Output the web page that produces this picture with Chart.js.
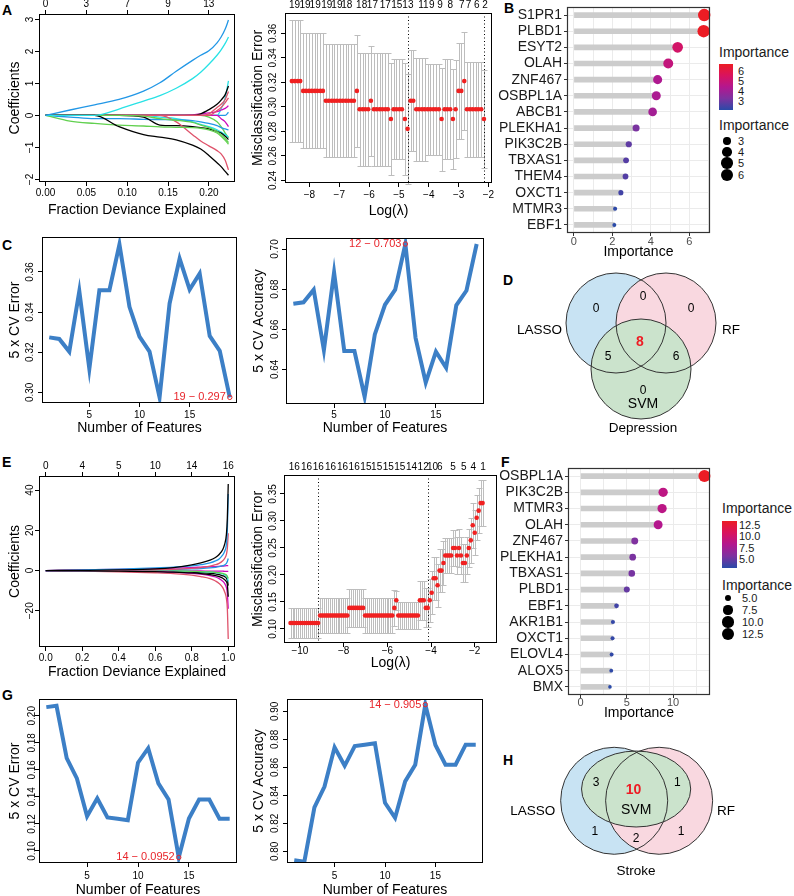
<!DOCTYPE html>
<html>
<head>
<meta charset="utf-8">
<script src="https://cdn.jsdelivr.net/npm/chart.js@4.4.1/dist/chart.umd.min.js"></script>
<style>
body { margin: 0; background: #fff; font-family: "Liberation Sans", Arial, sans-serif; }
#page { position: relative; width: 794px; height: 896px; overflow: hidden; }
#page canvas { position: absolute; }
.tag { position: absolute; font-weight: bold; font-size: 14px; line-height: 14px; }
.lg { position: absolute; white-space: nowrap; color: #1a1a1a; }
</style>
</head>
<body>
<div id="page">
  <div class="tag" style="left:2px;top:3px">A</div>
  <div class="tag" style="left:504px;top:1px">B</div>
  <div class="tag" style="left:2px;top:238px">C</div>
  <div class="tag" style="left:503px;top:273px">D</div>
  <div class="tag" style="left:2px;top:455px">E</div>
  <div class="tag" style="left:501px;top:455px">F</div>
  <div class="tag" style="left:2px;top:688px">G</div>
  <div class="tag" style="left:503px;top:753px">H</div>
</div>
<script>
Chart.defaults.font.family = '"Liberation Sans", Arial, sans-serif';
Chart.defaults.color = '#000';
Chart.defaults.animation = false;
Chart.defaults.events = [];
Chart.defaults.plugins.legend.display = false;
Chart.defaults.plugins.tooltip.enabled = false;

// ---------- data ----------
// A: lasso coefficient paths (depression)
const fracA = [0, 0.03, 0.06, 0.09, 0.12, 0.14, 0.16, 0.18, 0.19, 0.20, 0.21, 0.215, 0.22, 0.224];
const coefA = [
  [0, 0.17, 0.33, 0.50, 0.76, 1.02, 1.38, 1.72, 1.88, 2.02, 2.27, 2.45, 2.70, 2.98],
  [0, 0, 0, 0.20, 0.45, 0.62, 0.85, 1.15, 1.35, 1.60, 1.88, 2.05, 2.25, 2.45],
  [0, 0, 0, -0.35, -0.60, -0.68, -0.76, -0.93, -1.05, -1.25, -1.48, -1.60, -1.75, -1.87],
  [0, -0.18, -0.25, -0.30, -0.33, -0.36, -0.37, -0.38, -0.40, -0.45, -0.55, -0.65, -0.78, -0.90],
  [0, 0, 0, 0, -0.02, -0.10, -0.15, -0.22, -0.30, -0.38, -0.50, -0.60, -0.72, -0.85],
  [0, 0, 0, 0, 0, 0, -0.20, -0.60, -0.80, -0.95, -1.10, -1.20, -1.40, -1.70],
  [0, 0, 0, 0, 0, 0, 0, 0, 0, 0.05, 0.25, 0.35, 0.50, 0.75],
  [0, 0, 0, 0, 0, 0, 0, 0, 0, 0, 0.15, 0.25, 0.40, 0.55],
  [0, 0, 0, 0, 0, 0, 0, 0, 0.05, 0.18, 0.35, 0.48, 0.65, 0.92],
  [0, 0, 0, 0, -0.05, -0.30, -0.32, -0.35, -0.38, -0.42, -0.50, -0.55, -0.65, -0.75],
  [0, -0.05, -0.10, -0.10, -0.12, -0.13, -0.14, -0.16, -0.20, -0.25, -0.32, -0.38, -0.42, -0.45],
  [0, 0, 0, 0, 0, 0, 0, 0.02, 0.05, 0.08, 0.12, 0.17, 0.22, 0.30],
  [0, 0, 0, 0, 0, 0, 0, 0, 0, 0, 0, -0.10, -0.20, -0.35],
  [0, 0, 0, 0, 0, 0, 0, 0, 0, 0, 0, 0.20, 0.55, 1.08],
  [0, 0, 0, 0, 0, -0.05, -0.10, -0.20, -0.28, -0.35, -0.45, -0.52, -0.60, -0.68],
  [0, 0, 0, 0, 0, 0, 0, 0, 0, 0, 0, 0, 0, 0.10],
  [0, 0, 0, 0, 0, 0, 0, 0, 0, -0.05, -0.20, -0.35, -0.55, -0.70]
];
const nzTopPosA = [0, 0.05, 0.10, 0.15, 0.20];
const nzTopA = ['0', '3', '7', '9', '13'];

// A: cv curve (depression)
const lamA = [-8.59, -8.50, -8.40, -8.31, -8.21, -8.12, -8.02, -7.93, -7.83, -7.74,
  -7.64, -7.55, -7.45, -7.36, -7.26, -7.17, -7.08, -6.98, -6.89, -6.79,
  -6.70, -6.60, -6.51, -6.41, -6.32, -6.22, -6.13, -6.03, -5.94, -5.84,
  -5.75, -5.65, -5.56, -5.46, -5.37, -5.27, -5.18, -5.09, -4.99, -4.90,
  -4.80, -4.71, -4.61, -4.52, -4.42, -4.33, -4.23, -4.14, -4.04, -3.95,
  -3.85, -3.76, -3.66, -3.57, -3.47, -3.38, -3.28, -3.19, -3.10, -3.00,
  -2.91, -2.81, -2.72, -2.62, -2.53, -2.43, -2.34, -2.24, -2.15];
const cvmA = [0.321, 0.321, 0.321, 0.321, 0.313, 0.313, 0.313, 0.313, 0.313, 0.313,
  0.313, 0.313, 0.305, 0.305, 0.305, 0.305, 0.305, 0.305, 0.305, 0.305,
  0.305, 0.305, 0.305, 0.313, 0.298, 0.298, 0.298, 0.298, 0.305, 0.298,
  0.298, 0.298, 0.298, 0.298, 0.298, 0.290, 0.298, 0.298, 0.298, 0.298,
  0.290, 0.282, 0.305, 0.305, 0.298, 0.298, 0.298, 0.298, 0.298, 0.298,
  0.298, 0.298, 0.298, 0.290, 0.298, 0.298, 0.298, 0.290, 0.298, 0.313,
  0.313, 0.321, 0.298, 0.298, 0.298, 0.298, 0.298, 0.298, 0.290];
const cvsdA = [0.050, 0.050, 0.050, 0.050, 0.047, 0.047, 0.047, 0.047, 0.047, 0.047,
  0.047, 0.047, 0.046, 0.046, 0.046, 0.046, 0.046, 0.046, 0.046, 0.046,
  0.046, 0.046, 0.046, 0.046, 0.046, 0.046, 0.046, 0.046, 0.045, 0.046,
  0.046, 0.046, 0.046, 0.046, 0.046, 0.046, 0.041, 0.041, 0.041, 0.041,
  0.046, 0.045, 0.041, 0.041, 0.042, 0.042, 0.042, 0.042, 0.037, 0.037,
  0.037, 0.037, 0.037, 0.042, 0.041, 0.041, 0.041, 0.041, 0.040, 0.039,
  0.039, 0.040, 0.039, 0.039, 0.039, 0.039, 0.039, 0.039, 0.040];
const nzPosA = [-8.50, -8.15, -7.81, -7.42, -7.08, -6.75, -6.25, -5.89, -5.46, -5.07, -4.70, -4.18, -3.90, -3.62, -3.28, -2.89, -2.67, -2.39, -2.11];
const nzA = ['19', '19', '19', '19', '19', '18', '18', '17', '17', '15', '13', '11', '9', '9', '8', '7', '7', '6', '2'];
const lamLinesA = [-4.71, -2.15];

// B: random forest importance (depression)
const genesB = ['S1PR1', 'PLBD1', 'ESYT2', 'OLAH', 'ZNF467', 'OSBPL1A', 'ABCB1', 'PLEKHA1', 'PIK3C2B', 'TBXAS1', 'THEM4', 'OXCT1', 'MTMR3', 'EBF1'];
const impB = [6.77, 6.74, 5.39, 4.90, 4.35, 4.28, 4.09, 3.23, 2.85, 2.71, 2.68, 2.44, 2.14, 2.10];
const legTicksB = [6, 5, 4, 3];
const legSizesB = [3, 4, 5, 6];

// C: SVM-RFE (depression)
const featN = [1, 2, 3, 4, 5, 6, 7, 8, 9, 10, 11, 12, 13, 14, 15, 16, 17, 18, 19];
const errC = [0.3274, 0.3266, 0.3203, 0.3504, 0.3117, 0.3509, 0.3509, 0.3737, 0.3426, 0.3278, 0.3203, 0.2975, 0.3443, 0.3666, 0.3512, 0.3592, 0.3281, 0.3207, 0.2975];
const accC = [0.6727, 0.6734, 0.6797, 0.6496, 0.6883, 0.6491, 0.6491, 0.6263, 0.6574, 0.6722, 0.6797, 0.7025, 0.6557, 0.6334, 0.6488, 0.6408, 0.6719, 0.6793, 0.7025];
const bestErrC = [19, '19 \u2212 0.297'];
const bestAccC = [12, '12 \u2212 0.703'];

// D: overlap (depression)
const vennCountD = [0, 0, 0, 8, 5, 6, 0]; // LASSO, LASSO&RF, RF, all, LASSO&SVM, RF&SVM, SVM

// E: lasso coefficient paths (stroke)
const fracE = [0, 0.2, 0.4, 0.6, 0.7, 0.8, 0.85, 0.9, 0.93, 0.95, 0.97, 0.98, 0.99, 0.995, 1.0];
const coefE = [
  [0, 0.1, 0.3, 0.8, 1.5, 2.8, 3.8, 5.2, 6.5, 8, 10.5, 13, 18, 26, 43],
  [0, 0.3, 0.7, 1.3, 1.7, 2.3, 2.9, 3.8, 4.8, 5.8, 7.8, 9.5, 13, 20, 38],
  [0, 0.1, 0.2, 0.4, 0.6, 1.1, 1.5, 2.2, 2.9, 3.6, 4.9, 6, 8, 11, 18.5],
  [0, 0, 0.1, 0.3, 0.5, 0.8, 1, 1.3, 1.6, 1.9, 2.4, 2.8, 3.6, 4.5, 6],
  [0, 0.3, 0.6, 1, 1.2, 1.5, 1.7, 1.9, 2, 2.1, 2.2, 2.3, 2.4, 2.4, 2.5],
  [0, -0.1, -0.3, -0.5, -0.8, -1.2, -1.5, -2, -2.5, -3, -3.8, -4.5, -5.6, -7, -13],
  [0, -0.3, -0.6, -1.1, -1.5, -2.3, -3, -4, -5.2, -6.4, -8.5, -10.5, -14, -19, -34],
  [0, -0.1, -0.3, -0.6, -0.9, -1.4, -1.8, -2.5, -3.2, -4, -5.3, -6.4, -8.5, -11.5, -19],
  [0, 0, 0, -0.1, -0.2, -0.4, -0.5, -0.7, -0.9, -1.1, -1.4, -1.7, -2.2, -2.8, -4],
  [0, 0, 0, -0.1, -0.2, -0.4, -0.6, -0.8, -1, -1.3, -1.7, -2, -2.7, -3.5, -5.5],
  [0, 0, 0, -0.1, -0.1, -0.2, -0.2, -0.3, -0.3, -0.3, -0.3, -0.4, -0.4, -0.4, -0.5],
  [0, 0, -0.1, -0.3, -0.5, -0.8, -1, -1.4, -1.7, -2, -2.6, -3, -3.8, -4.8, -7.5]
];
const nzTopPosE = [0, 0.2, 0.4, 0.6, 0.8, 1.0];
const nzTopE = ['0', '4', '5', '10', '14', '16'];

// E: cv curve (stroke)
const lamE = [-10.43, -10.34, -10.25, -10.16, -10.07, -9.98, -9.89, -9.80, -9.71, -9.62,
  -9.53, -9.44, -9.35, -9.26, -9.17, -9.08, -8.99, -8.90, -8.81, -8.73,
  -8.64, -8.55, -8.46, -8.37, -8.28, -8.19, -8.10, -8.01, -7.92, -7.83,
  -7.74, -7.65, -7.56, -7.47, -7.38, -7.29, -7.20, -7.11, -7.02, -6.93,
  -6.84, -6.75, -6.66, -6.57, -6.48, -6.39, -6.30, -6.21, -6.12, -6.03,
  -5.95, -5.86, -5.77, -5.68, -5.59, -5.50, -5.41, -5.32, -5.23, -5.14,
  -5.05, -4.96, -4.87, -4.78, -4.69, -4.60, -4.51, -4.42, -4.33, -4.24,
  -4.15, -4.06, -3.97, -3.88, -3.79, -3.70, -3.61, -3.52, -3.43, -3.35,
  -3.26, -3.17, -3.08, -2.99, -2.90, -2.81, -2.72, -2.63, -2.54, -2.45,
  -2.36, -2.27, -2.18, -2.09, -2.00, -1.91, -1.82, -1.73, -1.64];
const cvmE = [0.111, 0.111, 0.111, 0.111, 0.111, 0.111, 0.111, 0.111, 0.111, 0.111,
  0.111, 0.111, 0.111, 0.111, 0.111, 0.125, 0.125, 0.125, 0.125, 0.125,
  0.125, 0.125, 0.125, 0.125, 0.125, 0.125, 0.125, 0.125, 0.125, 0.125,
  0.139, 0.139, 0.139, 0.139, 0.139, 0.139, 0.139, 0.139, 0.125, 0.125,
  0.125, 0.125, 0.125, 0.125, 0.125, 0.125, 0.125, 0.125, 0.125, 0.125,
  0.125, 0.125, 0.125, 0.139, 0.153, 0.125, 0.125, 0.125, 0.125, 0.125,
  0.125, 0.125, 0.125, 0.125, 0.125, 0.125, 0.153, 0.153, 0.153, 0.139,
  0.139, 0.153, 0.167, 0.194, 0.194, 0.181, 0.208, 0.208, 0.222, 0.236,
  0.236, 0.236, 0.236, 0.250, 0.250, 0.236, 0.250, 0.236, 0.222, 0.222,
  0.236, 0.250, 0.264, 0.292, 0.278, 0.306, 0.319, 0.333, 0.333];
const cvsdE = [0.028, 0.028, 0.028, 0.028, 0.028, 0.028, 0.028, 0.028, 0.028, 0.028,
  0.028, 0.028, 0.028, 0.028, 0.028, 0.033, 0.033, 0.033, 0.033, 0.033,
  0.033, 0.033, 0.033, 0.033, 0.033, 0.033, 0.033, 0.033, 0.033, 0.033,
  0.035, 0.035, 0.035, 0.035, 0.035, 0.035, 0.035, 0.035, 0.033, 0.033,
  0.033, 0.033, 0.033, 0.033, 0.033, 0.033, 0.033, 0.033, 0.033, 0.033,
  0.033, 0.033, 0.033, 0.034, 0.018, 0.025, 0.025, 0.025, 0.025, 0.025,
  0.025, 0.025, 0.025, 0.025, 0.025, 0.025, 0.036, 0.036, 0.036, 0.036,
  0.036, 0.040, 0.040, 0.040, 0.040, 0.040, 0.040, 0.040, 0.040, 0.033,
  0.033, 0.033, 0.033, 0.033, 0.033, 0.035, 0.035, 0.035, 0.035, 0.035,
  0.035, 0.035, 0.042, 0.042, 0.042, 0.042, 0.042, 0.042, 0.042];
const nzPosE = [-10.26, -9.70, -9.16, -8.60, -8.05, -7.52, -6.98, -6.49, -5.96, -5.43, -4.89, -4.36, -3.93, -3.60, -2.99, -2.50, -2.07, -1.62];
const nzE = ['16', '16', '16', '16', '16', '16', '15', '15', '15', '15', '14', '12', '10', '6', '5', '5', '4', '1'];
const lamLinesE = [-9.17, -4.15];

// F: random forest importance (stroke)
const genesF = ['OSBPL1A', 'PIK3C2B', 'MTMR3', 'OLAH', 'ZNF467', 'PLEKHA1', 'TBXAS1', 'PLBD1', 'EBF1', 'AKR1B1', 'OXCT1', 'ELOVL4', 'ALOX5', 'BMX'];
const impF = [13.4, 8.93, 8.82, 8.39, 5.86, 5.64, 5.54, 5.00, 3.89, 3.50, 3.46, 3.36, 3.32, 3.18];
const legTicksF = [12.5, 10.0, 7.5, 5.0];
const legSizesF = [5.0, 7.5, 10.0, 12.5];

// G: SVM-RFE (stroke)
const errG = [0.2064, 0.2074, 0.1686, 0.1537, 0.1257, 0.1389, 0.1248, 0.1238, 0.1228, 0.1653, 0.1760, 0.1500, 0.1381, 0.0952, 0.1240, 0.1381, 0.1381, 0.1238, 0.1238];
const accG = [0.7936, 0.7926, 0.8314, 0.8463, 0.8743, 0.8611, 0.8752, 0.8762, 0.8772, 0.8347, 0.8240, 0.8500, 0.8619, 0.9048, 0.8760, 0.8619, 0.8619, 0.8762, 0.8762];
const bestErrG = [14, '14 \u2212 0.0952'];
const bestAccG = [14, '14 \u2212 0.905'];

// H: overlap (stroke)
const vennCountH = [3, 10, 1, 1, 2, 1]; // LASSO&SVM, all, RF&SVM, LASSO, LASSO&RF, RF

// ---------- helpers ----------
const FONT = '"Liberation Sans", Arial, sans-serif';
const pathCol = { k: '#000000', r: '#DF536B', g: '#61D04F', b: '#2297E6', c: '#28E2E5', m: '#CD0BBC' };
const colA = ['b', 'c', 'k', 'g', 'g', 'r', 'r', 'r', 'k', 'k', 'b', 'm', 'm', 'c', 'c', 'b', 'g'];
const colE = ['k', 'b', 'r', 'b', 'm', 'k', 'r', 'm', 'g', 'c', 'm', 'k'];

const minus = s => s.replace('-', '\u2212');
const fInt = v => minus(String(Math.round(v)));
const f1 = v => minus(v.toFixed(1));
const f2 = v => minus(v.toFixed(2));

function mk(L, T, W, H) {
  const cv = document.createElement('canvas');
  cv.width = W; cv.height = H;
  cv.style.left = L + 'px'; cv.style.top = T + 'px';
  document.getElementById('page').appendChild(cv);
  return cv;
}

function boxPlug(color, lw) {
  return { id: 'box', afterDraw(ch) {
    const a = ch.chartArea, c = ch.ctx;
    c.save(); c.strokeStyle = color; c.lineWidth = lw;
    c.strokeRect(Math.round(a.left) + 0.5, Math.round(a.top) + 0.5, Math.round(a.right - a.left) - 1, Math.round(a.bottom - a.top) - 1);
    c.restore();
  } };
}

function rotYPlug(off, fmt) {
  return { id: 'roty', afterDraw(ch) {
    const s = ch.scales.y, c = ch.ctx;
    c.save();
    c.font = '10px ' + FONT; c.fillStyle = '#000'; c.textAlign = 'center'; c.textBaseline = 'middle';
    s.ticks.forEach(t => {
      c.save();
      c.translate(ch.chartArea.left - off, s.getPixelForValue(t.value));
      c.rotate(-Math.PI / 2);
      c.fillText(fmt(t.value), 0, 0);
      c.restore();
    });
    c.restore();
  } };
}

function cvPlug(lam, m, sd, vlines) {
  return { id: 'cvbars', beforeDatasetsDraw(ch) {
    const xs = ch.scales.x, ys = ch.scales.y, c = ch.ctx, a = ch.chartArea;
    c.save(); c.strokeStyle = '#bdbdbd'; c.lineWidth = 1;
    c.beginPath();
    lam.forEach((v, i) => {
      const x = Math.round(xs.getPixelForValue(v)) + 0.5;
      const y1 = Math.round(ys.getPixelForValue(m[i] + sd[i])) + 0.5;
      const y2 = Math.round(ys.getPixelForValue(m[i] - sd[i])) + 0.5;
      c.moveTo(x, y1); c.lineTo(x, y2);
      c.moveTo(x - 3, y1); c.lineTo(x + 3, y1);
      c.moveTo(x - 3, y2); c.lineTo(x + 3, y2);
    });
    c.stroke();
    c.strokeStyle = '#000'; c.setLineDash([1, 2.5]);
    c.beginPath();
    vlines.forEach(v => {
      const x = Math.round(xs.getPixelForValue(v)) + 0.5;
      c.moveTo(x, a.top); c.lineTo(x, a.bottom);
    });
    c.stroke();
    c.restore();
  } };
}

function notePlug(x, y, text) {
  return { id: 'note', afterDatasetsDraw(ch) {
    const px = ch.scales.x.getPixelForValue(x), py = ch.scales.y.getPixelForValue(y), c = ch.ctx;
    c.save();
    c.strokeStyle = '#e8262c'; c.lineWidth = 1;
    c.beginPath(); c.arc(px, py, 2.2, 0, 2 * Math.PI); c.stroke();
    c.fillStyle = '#e8262c'; c.font = '11px ' + FONT; c.textAlign = 'right'; c.textBaseline = 'middle';
    c.fillText(text, px - 4, py);
    c.restore();
  } };
}

function rPlot(P) {
  const cv = mk(P.L, P.T, P.W, P.H);
  const [bl, bt, br, bb] = P.box;
  const g = () => ({ drawOnChartArea: false, tickLength: 4, color: '#000', lineWidth: 1 });
  const scales = {
    x: {
      type: 'linear', position: 'bottom', min: P.x.min, max: P.x.max,
      afterBuildTicks: s => { s.ticks = P.x.ticks.map(v => ({ value: v })); },
      afterFit: s => { s.height = P.T + P.H - bb; s.paddingLeft = 0; s.paddingRight = 0; },
      ticks: { callback: v => P.x.fmt(v), font: { size: 10 }, color: '#000', padding: P.x.lab - 10, autoSkip: false, maxRotation: 0 },
      grid: g(), border: { display: false },
      title: { display: true, text: P.x.title, font: { size: 14 }, color: '#000', padding: { top: 0, bottom: P.T + P.H - P.x.tY - 8.4 } }
    },
    y: {
      type: 'linear', position: 'left', min: P.y.min, max: P.y.max,
      afterBuildTicks: s => { s.ticks = P.y.ticks.map(v => ({ value: v })); },
      afterFit: s => { s.width = bl - P.L; s.paddingTop = 0; s.paddingBottom = 0; },
      ticks: { display: false },
      grid: g(), border: { display: false },
      title: { display: true, text: P.y.title, font: { size: 14 }, color: '#000', padding: { top: P.y.tX - P.L - 8.4, bottom: 0 } }
    }
  };
  const pad = { left: 0, right: P.L + P.W - br, top: 0, bottom: 0 };
  if (P.top) {
    const tg = g(); tg.drawTicks = P.top.ticks;
    scales.x2 = {
      type: 'linear', position: 'top', min: P.x.min, max: P.x.max,
      afterBuildTicks: s => { s.ticks = P.top.pos.map(v => ({ value: v })); },
      afterFit: s => { s.height = bt - P.T; s.paddingLeft = 0; s.paddingRight = 0; },
      ticks: { callback: (v, i) => P.top.labels[i], font: { size: 10 }, color: '#000', padding: P.top.pad, autoSkip: false, maxRotation: 0 },
      grid: tg, border: { display: false }
    };
  } else {
    pad.top = bt - P.T;
  }
  new Chart(cv, {
    type: 'line',
    data: { datasets: P.datasets },
    options: { responsive: false, layout: { padding: pad }, scales: scales },
    plugins: [rotYPlug(P.y.lab, P.y.fmt), boxPlug('#000', 1)].concat(P.extra || [])
  });
}

function pathSets(grid, paths, cols) {
  return paths.map((ys, k) => ({
    data: grid.map((x, i) => ({ x: x, y: ys[i] })),
    borderColor: pathCol[cols[k]], borderWidth: 1.3, pointRadius: 0,
    cubicInterpolationMode: 'monotone', fill: false
  }));
}

function dotSet(lam, m) {
  return [{ data: lam.map((x, i) => ({ x: x, y: m[i] })), showLine: false, pointRadius: 2.3, pointBackgroundColor: '#f02020', pointBorderWidth: 0 }];
}

function curveSet(ys) {
  return [{ data: featN.map((x, i) => ({ x: x, y: ys[i] })), borderColor: '#3c7fc6', borderWidth: 4, pointRadius: 0, tension: 0, fill: false }];
}

const gradStops = [[0, [42, 74, 168]], [0.25, [125, 50, 160]], [0.5, [179, 23, 143]], [0.75, [217, 19, 94]], [1, [236, 28, 36]]];
function grad(t) {
  t = Math.max(0, Math.min(1, t));
  for (let i = 1; i < gradStops.length; i++) {
    if (t <= gradStops[i][0]) {
      const [t0, c0] = gradStops[i - 1], [t1, c1] = gradStops[i];
      const f = (t - t0) / (t1 - t0);
      return 'rgb(' + c0.map((v, k) => Math.round(v + (c1[k] - v) * f)).join(',') + ')';
    }
  }
  return 'rgb(236,28,36)';
}
const gradCss = 'linear-gradient(to top, ' + gradStops.map(s => 'rgb(' + s[1].join(',') + ') ' + (s[0] * 100) + '%').join(', ') + ')';

function lolli(P) {
  const cv = mk(P.L, P.T, P.W, P.H);
  const [bl, bt, br, bb] = P.box;
  const [v0, v1, r0, r1] = P.rng;
  const col = v => grad((v - v0) / (v1 - v0));
  const rad = v => Math.sqrt(r0 * r0 + (v - v0) / (v1 - v0) * (r1 * r1 - r0 * r0));
  new Chart(cv, {
    type: 'bar',
    data: { labels: P.genes, datasets: [
      { type: 'line', data: P.imp, showLine: false, order: 0, clip: false,
        pointRadius: c => c.raw == null ? 0 : rad(c.raw),
        pointBackgroundColor: c => c.raw == null ? '#000' : col(c.raw), pointBorderWidth: 0 },
      { type: 'bar', data: P.imp.map(v => [0, v]), backgroundColor: '#cccccc', barThickness: 5, order: 1 }
    ] },
    options: {
      indexAxis: 'y', responsive: false,
      layout: { padding: { left: 0, top: bt - P.T, right: P.L + P.W - br, bottom: 0 } },
      scales: {
        y: {
          type: 'category', offset: true,
          afterFit: s => { s.width = bl - P.L; s.paddingTop = 0; s.paddingBottom = 0; },
          ticks: { font: { size: 14 }, color: '#1a1a1a', padding: 2, autoSkip: false },
          grid: { offset: false, color: '#ebebeb', tickColor: '#333', tickLength: 3 },
          border: { display: false }
        },
        x: {
          type: 'linear', min: P.xmin, max: P.xmax,
          afterBuildTicks: s => { s.ticks = P.xt.map(v => ({ value: v })); },
          afterFit: s => { s.height = P.T + P.H - bb; s.paddingLeft = 0; s.paddingRight = 0; },
          ticks: { callback: v => P.major.includes(v) ? String(v) : '', font: { size: 11 }, color: '#4d4d4d', padding: P.xpad, autoSkip: false, maxRotation: 0 },
          grid: { color: '#ebebeb', tickColor: c => P.major.includes(c.tick.value) ? '#333' : 'rgba(0,0,0,0)', tickLength: 3 },
          border: { display: false },
          title: { display: true, text: 'Importance', font: { size: 14 }, color: '#000', padding: { top: 0, bottom: P.T + P.H - P.tY - 8.4 } }
        }
      }
    },
    plugins: [boxPlug('#333', 1.2)]
  });
  // legends
  const page = document.getElementById('page');
  const add = (css, txt) => { const d = document.createElement('div'); d.className = 'lg'; d.style.cssText = css; if (txt != null) d.textContent = txt; page.appendChild(d); };
  const G = P.leg;
  add('left:' + G.x + 'px;top:' + (G.t1 - 8) + 'px;font-size:14px;line-height:16px', 'Importance');
  add('left:' + G.x + 'px;top:' + G.barTop + 'px;width:' + G.barW + 'px;height:' + G.barH + 'px;background:' + gradCss);
  P.legTicks.forEach(v => {
    const y = G.barTop + (v1 - v) / (v1 - v0) * G.barH;
    add('left:' + G.labX + 'px;top:' + (y - 6.5) + 'px;font-size:11px;line-height:13px', P.legFmt(v));
  });
  add('left:' + G.x + 'px;top:' + (G.t2 - 8) + 'px;font-size:14px;line-height:16px', 'Importance');
  P.legSizes.forEach((v, i) => {
    const r = rad(v) * 1.12, y = G.dotY[i];
    add('left:' + (G.dotX - r) + 'px;top:' + (y - r) + 'px;width:' + (2 * r) + 'px;height:' + (2 * r) + 'px;border-radius:50%;background:#000');
    add('left:' + G.dotLab + 'px;top:' + (y - 6.5) + 'px;font-size:11px;line-height:13px', P.legFmt(v));
  });
}

function vennPlug(shapes, texts) {
  return { id: 'venn', afterDraw(ch) {
    const xs = ch.scales.x, ys = ch.scales.y, c = ch.ctx;
    const px = v => xs.getPixelForValue(v), py = v => ys.getPixelForValue(v);
    const path = s => { c.beginPath(); c.ellipse(px(s.cx), py(s.cy), Math.abs(px(s.cx + s.rx) - px(s.cx)), Math.abs(py(s.cy + s.ry) - py(s.cy)), 0, 0, 2 * Math.PI); };
    c.save();
    shapes.forEach(s => { path(s); c.fillStyle = s.fill; c.fill(); });
    c.strokeStyle = '#333'; c.lineWidth = 1;
    shapes.forEach(s => { path(s); c.stroke(); });
    c.textAlign = 'center'; c.textBaseline = 'middle';
    texts.forEach(t => {
      c.font = (t.bold ? 'bold ' : '') + t.size + 'px ' + FONT;
      c.fillStyle = t.color || '#000';
      c.fillText(t.text, px(t.x), py(t.y));
    });
    c.restore();
  } };
}

function venn(L, T, W, H, xr, yr, shapes, texts) {
  const cv = mk(L, T, W, H);
  new Chart(cv, {
    type: 'scatter',
    data: { datasets: [] },
    options: { responsive: false, scales: { x: { display: false, min: xr[0], max: xr[1] }, y: { display: false, min: yr[0], max: yr[1] } } },
    plugins: [vennPlug(shapes, texts)]
  });
}

// ---------- panels ----------
rPlot({ L: 0, T: 0, W: 244, H: 220, box: [39, 14, 235, 182],
  x: { min: -0.008, max: 0.232, ticks: [0, 0.05, 0.10, 0.15, 0.20], fmt: f2, title: 'Fraction Deviance Explained', tY: 210, lab: 11 },
  y: { min: -2.08, max: 3.17, ticks: [-2, -1, 0, 1, 2, 3], fmt: fInt, title: 'Coefficients', tX: 15, lab: 9 },
  top: { pos: nzTopPosA, labels: nzTopA, ticks: true, pad: 0 },
  datasets: pathSets(fracA, coefA, colA) });

rPlot({ L: 246, T: 0, W: 260, H: 220, box: [285, 13, 492, 183],
  x: { min: -8.82, max: -1.88, ticks: [-8, -7, -6, -5, -4, -3, -2], fmt: fInt, title: 'Log(\u03bb)', tY: 211, lab: 12 },
  y: { min: 0.2378, max: 0.3766, ticks: [0.24, 0.26, 0.28, 0.30, 0.32, 0.34, 0.36], fmt: f2, title: 'Misclassification Error', tX: 258, lab: 12 },
  top: { pos: nzPosA, labels: nzA, ticks: false, pad: 2 },
  datasets: dotSet(lamA, cvmA), extra: [cvPlug(lamA, cvmA, cvsdA, lamLinesA)] });

lolli({ L: 488, T: 0, W: 228, H: 262, box: [567, 7, 711, 233], genes: genesB, imp: impB,
  rng: [2.10, 6.77, 2, 6.2], xmin: -0.36, xmax: 7.06, xt: [0, 1, 2, 3, 4, 5, 6, 7], major: [0, 2, 4, 6], xpad: -1, tY: 252,
  legTicks: legTicksB, legSizes: legSizesB, legFmt: v => String(v),
  leg: { x: 719, t1: 52, barTop: 64, barW: 14, barH: 46, labX: 738, t2: 125, dotX: 727, dotY: [141, 152, 163, 175], dotLab: 738 } });

rPlot({ L: 0, T: 222, W: 244, H: 220, box: [42, 237, 237, 403],
  x: { min: 0.28, max: 19.72, ticks: [5, 10, 15], fmt: fInt, title: 'Number of Features', tY: 428, lab: 12 },
  y: { min: 0.2947, max: 0.3774, ticks: [0.30, 0.32, 0.34, 0.36], fmt: f2, title: '5 x CV Error', tX: 15, lab: 12 },
  datasets: curveSet(errC), extra: [notePlug(bestErrC[0], errC[bestErrC[0] - 1], bestErrC[1])] });

rPlot({ L: 246, T: 222, W: 250, H: 220, box: [286, 238, 484, 404],
  x: { min: 0.28, max: 19.72, ticks: [5, 10, 15], fmt: fInt, title: 'Number of Features', tY: 428, lab: 11 },
  y: { min: 0.6227, max: 0.7055, ticks: [0.64, 0.66, 0.68, 0.70], fmt: f2, title: '5 x CV Accuracy', tX: 259, lab: 11 },
  datasets: curveSet(accC), extra: [notePlug(bestAccC[0], accC[bestAccC[0] - 1], bestAccC[1])] });

venn(505, 262, 289, 178, [-2.22, 3.56], [-2.34, 1.22], [
  { cx: 0, cy: 0, rx: 1, ry: 1, fill: '#c8e3f3' },
  { cx: 1, cy: 0, rx: 1, ry: 1, fill: '#f9d8e0' },
  { cx: 0.5, cy: -0.92, rx: 1, ry: 1, fill: '#cbe3cc' }
], [
  { text: String(vennCountD[0]), x: -0.4, y: 0.28, size: 12 },
  { text: String(vennCountD[1]), x: 0.54, y: 0.52, size: 12 },
  { text: String(vennCountD[2]), x: 1.5, y: 0.28, size: 12 },
  { text: String(vennCountD[3]), x: 0.48, y: -0.38, size: 14, bold: true, color: '#ee1c24' },
  { text: String(vennCountD[4]), x: -0.16, y: -0.68, size: 12 },
  { text: String(vennCountD[5]), x: 1.2, y: -0.68, size: 12 },
  { text: String(vennCountD[6]), x: 0.54, y: -1.36, size: 12 },
  { text: 'LASSO', x: -1.53, y: -0.14, size: 13.5 },
  { text: 'RF', x: 2.3, y: -0.14, size: 13.5 },
  { text: 'SVM', x: 0.54, y: -1.62, size: 14 },
  { text: 'Depression', x: 0.54, y: -2.1, size: 13.5 }
]);

rPlot({ L: 0, T: 448, W: 244, H: 234, box: [39, 476, 235, 647],
  x: { min: -0.037, max: 1.037, ticks: [0, 0.2, 0.4, 0.6, 0.8, 1.0], fmt: f1, title: 'Fraction Deviance Explained', tY: 672, lab: 11 },
  y: { min: -38, max: 47, ticks: [-20, 0, 20, 40], fmt: fInt, title: 'Coefficients', tX: 15, lab: 9 },
  top: { pos: nzTopPosE, labels: nzTopE, ticks: true, pad: 0 },
  datasets: pathSets(fracE, coefE, colE) });

rPlot({ L: 246, T: 448, W: 260, H: 226, box: [284, 475, 497, 643],
  x: { min: -10.73, max: -0.98, ticks: [-10, -8, -6, -4, -2], fmt: fInt, title: 'Log(\u03bb)', tY: 663, lab: 8 },
  y: { min: 0.074, max: 0.385, ticks: [0.10, 0.15, 0.20, 0.25, 0.30, 0.35], fmt: f2, title: 'Misclassification Error', tX: 258, lab: 11 },
  top: { pos: nzPosE, labels: nzE, ticks: false, pad: 2 },
  datasets: dotSet(lamE, cvmE), extra: [cvPlug(lamE, cvmE, cvsdE, lamLinesE)] });

lolli({ L: 488, T: 455, W: 228, H: 268, box: [568, 468, 712, 695], genes: genesF, imp: impF,
  rng: [3.18, 13.4, 1.8, 6], xmin: -1.36, xmax: 14.0, xt: [0, 2.5, 5, 7.5, 10, 12.5], major: [0, 5, 10], xpad: -2, tY: 713,
  legTicks: legTicksF, legSizes: legSizesF, legFmt: v => v.toFixed(1),
  leg: { x: 722, t1: 508, barTop: 521, barW: 15, barH: 47, labX: 739, t2: 585, dotX: 728, dotY: [598, 610, 622, 634], dotLab: 742 } });

rPlot({ L: 0, T: 682, W: 244, H: 214, box: [39, 699, 237, 863],
  x: { min: 0.28, max: 19.72, ticks: [5, 10, 15], fmt: fInt, title: 'Number of Features', tY: 890, lab: 13 },
  y: { min: 0.0911, max: 0.2124, ticks: [0.10, 0.12, 0.14, 0.16, 0.18, 0.20], fmt: f2, title: '5 x CV Error', tX: 15, lab: 7 },
  datasets: curveSet(errG), extra: [notePlug(bestErrG[0], errG[bestErrG[0] - 1], bestErrG[1])] });

rPlot({ L: 246, T: 682, W: 250, H: 214, box: [287, 699, 483, 863],
  x: { min: 0.28, max: 19.72, ticks: [5, 10, 15], fmt: fInt, title: 'Number of Features', tY: 890, lab: 13 },
  y: { min: 0.7917, max: 0.9088, ticks: [0.80, 0.82, 0.84, 0.86, 0.88, 0.90], fmt: f2, title: '5 x CV Accuracy', tX: 259, lab: 12 },
  datasets: curveSet(accG), extra: [notePlug(bestAccG[0], accG[bestAccG[0] - 1], bestAccG[1])] });

venn(505, 720, 289, 176, [-2.04, 3.36], [-1.78, 1.51], [
  { cx: 0, cy: 0, rx: 1, ry: 1, fill: '#c8e3f3' },
  { cx: 0.84, cy: 0, rx: 1, ry: 1, fill: '#f9d8e0' },
  { cx: 0.41, cy: 0.22, rx: 1.02, ry: 0.71, fill: '#cbe3cc' }
], [
  { text: String(vennCountH[0]), x: -0.34, y: 0.34, size: 12 },
  { text: String(vennCountH[1]), x: 0.36, y: 0.19, size: 14, bold: true, color: '#ee1c24' },
  { text: String(vennCountH[2]), x: 1.18, y: 0.34, size: 12 },
  { text: String(vennCountH[3]), x: -0.36, y: -0.58, size: 12 },
  { text: String(vennCountH[4]), x: 0.41, y: -0.71, size: 12 },
  { text: String(vennCountH[5]), x: 1.25, y: -0.58, size: 12 },
  { text: 'SVM', x: 0.41, y: -0.17, size: 14 },
  { text: 'LASSO', x: -1.52, y: -0.19, size: 13.5 },
  { text: 'RF', x: 2.09, y: -0.19, size: 13.5 },
  { text: 'Stroke', x: 0.41, y: -1.31, size: 13.5 }
]);
</script>
</body>
</html>
